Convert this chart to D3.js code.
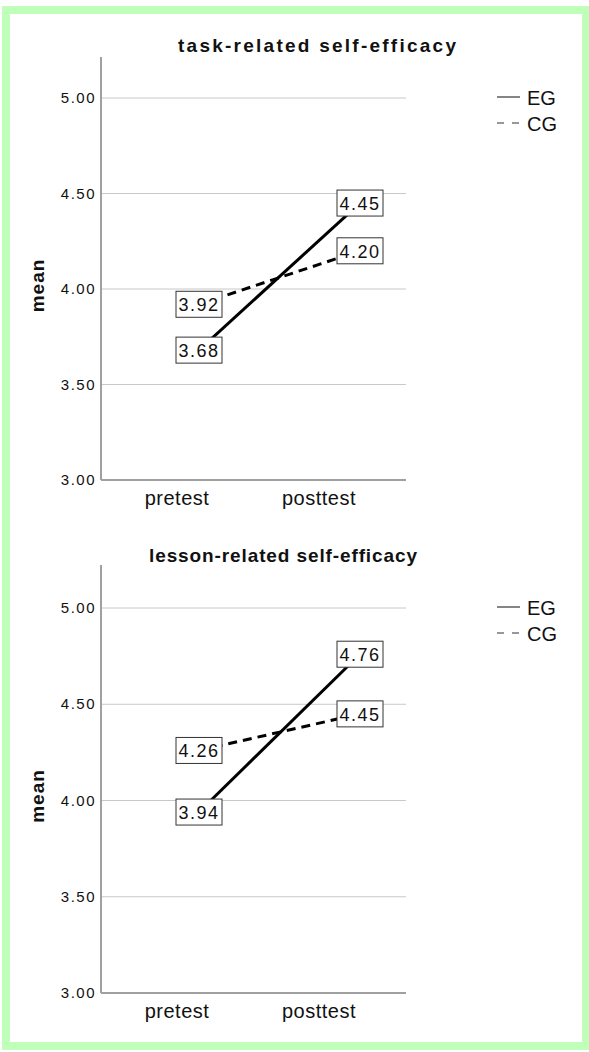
<!DOCTYPE html>
<html>
<head>
<meta charset="utf-8">
<script src="https://cdn.jsdelivr.net/npm/d3@7"></script>
<style>
  html, body { margin: 0; padding: 0; background: #fff; }
  svg { display: block; }
  text { font-family: "Liberation Sans", Arial, sans-serif; fill: #111; }
</style>
</head>
<body>
<div id="chart"></div>
<script>
// Pre/post means for EG vs CG, two stacked line panels

const categories = ["pretest", "posttest"];
const groups = ["EG", "CG"];
const yTicks = [3.00, 3.50, 4.00, 4.50, 5.00];

const taskTitle = "task-related self-efficacy";
const taskEG = [3.68, 4.45];
const taskCG = [3.92, 4.20];

const lessonTitle = "lesson-related self-efficacy";
const lessonEG = [3.94, 4.76];
const lessonCG = [4.26, 4.45];

const W = 589, H = 1052;

const svg = d3.select("#chart").append("svg")
  .attr("width", W)
  .attr("height", H);

// green frame
svg.append("rect")
  .attr("x", 6).attr("y", 10)
  .attr("width", 580).attr("height", 1036)
  .attr("fill", "none")
  .attr("stroke", "#bfffb9")
  .attr("stroke-width", 8);

const xLeft = 101, xRight = 406;
const x = d3.scalePoint().domain(categories).range([199, 360]);
const xLabel = d3.scalePoint().domain(categories).range([177, 319]);

const panels = [
  { title: taskTitle, titleX: 317, titleLen: 278, eg: taskEG, cg: taskCG,
    top: 57, y3: 480, y5: 98, titleY: 52 },
  { title: lessonTitle, titleX: 283, titleLen: 268, eg: lessonEG, cg: lessonCG,
    top: 565, y3: 993, y5: 608, titleY: 562 }
];

panels.forEach(p => {
  const g = svg.append("g");
  const y = d3.scaleLinear().domain([3, 5]).range([p.y3, p.y5]);

  g.append("text")
    .attr("x", p.titleX)
    .attr("y", p.titleY)
    .attr("text-anchor", "middle")
    .attr("font-size", "19px")
    .attr("font-weight", "bold")
    .attr("textLength", p.titleLen)
    .text(p.title);

  // gridlines
  g.selectAll(".grid")
    .data(yTicks.filter(t => t > 3))
    .join("line")
    .attr("x1", xLeft).attr("x2", xRight)
    .attr("y1", d => y(d)).attr("y2", d => y(d))
    .attr("stroke", "#c8c8c8")
    .attr("stroke-width", 1);

  // axes
  g.append("line")
    .attr("x1", xLeft).attr("x2", xLeft)
    .attr("y1", p.top).attr("y2", y(3))
    .attr("stroke", "#a0a0a0").attr("stroke-width", 2);
  g.append("line")
    .attr("x1", xLeft).attr("x2", xRight)
    .attr("y1", y(3)).attr("y2", y(3))
    .attr("stroke", "#a0a0a0").attr("stroke-width", 2);

  g.selectAll(".tick")
    .data(yTicks)
    .join("text")
    .attr("x", 96)
    .attr("y", d => y(d) + 5)
    .attr("text-anchor", "end")
    .attr("font-size", "15px")
    .attr("letter-spacing", "1.5px")
    .text(d => d.toFixed(2));

  g.selectAll(".cat")
    .data(categories)
    .join("text")
    .attr("x", d => xLabel(d))
    .attr("y", y(3) + 25)
    .attr("text-anchor", "middle")
    .attr("font-size", "20px")
    .attr("letter-spacing", "0.5px")
    .text(d => d);

  g.append("text")
    .attr("transform", `translate(44,${(p.top + y(3)) / 2 + 17}) rotate(-90)`)
    .attr("text-anchor", "middle")
    .attr("font-size", "19px")
    .attr("font-weight", "bold")
    .attr("letter-spacing", "1px")
    .text("mean");

  const series = [
    { name: "EG", vals: p.eg, dash: null },
    { name: "CG", vals: p.cg, dash: "9,6" }
  ];

  const line = d3.line()
    .x((d, i) => x(categories[i]))
    .y(d => y(d));

  g.selectAll(".series")
    .data(series)
    .join("path")
    .attr("d", d => line(d.vals))
    .attr("fill", "none")
    .attr("stroke", "#000")
    .attr("stroke-width", 3)
    .attr("stroke-dasharray", d => d.dash);

  const pts = series.flatMap(s => s.vals.map((v, i) => ({ v, cat: categories[i] })));

  const lab = g.selectAll(".lab").data(pts).join("g")
    .attr("transform", d => `translate(${x(d.cat)},${y(d.v)})`);
  lab.append("rect")
    .attr("x", -23).attr("y", -13)
    .attr("width", 46).attr("height", 26)
    .attr("fill", "#fff")
    .attr("stroke", "#333")
    .attr("stroke-width", 1);
  lab.append("text")
    .attr("x", 0).attr("y", 7)
    .attr("text-anchor", "middle")
    .attr("font-size", "18px")
    .attr("letter-spacing", "1.5px")
    .text(d => d.v.toFixed(2));

  // legend
  const leg = g.selectAll(".leg").data(series).join("g")
    .attr("transform", (d, i) => `translate(497,${p.y5 - 1 + i * 26})`);
  leg.append("line")
    .attr("x1", 0).attr("x2", 23)
    .attr("stroke", "#333")
    .attr("stroke-width", 1.2)
    .attr("stroke-dasharray", d => d.dash ? "7,8" : null);
  leg.append("text")
    .attr("x", 30).attr("y", 8)
    .attr("font-size", "20px")
    .text(d => d.name);
});
</script>
</body>
</html>
